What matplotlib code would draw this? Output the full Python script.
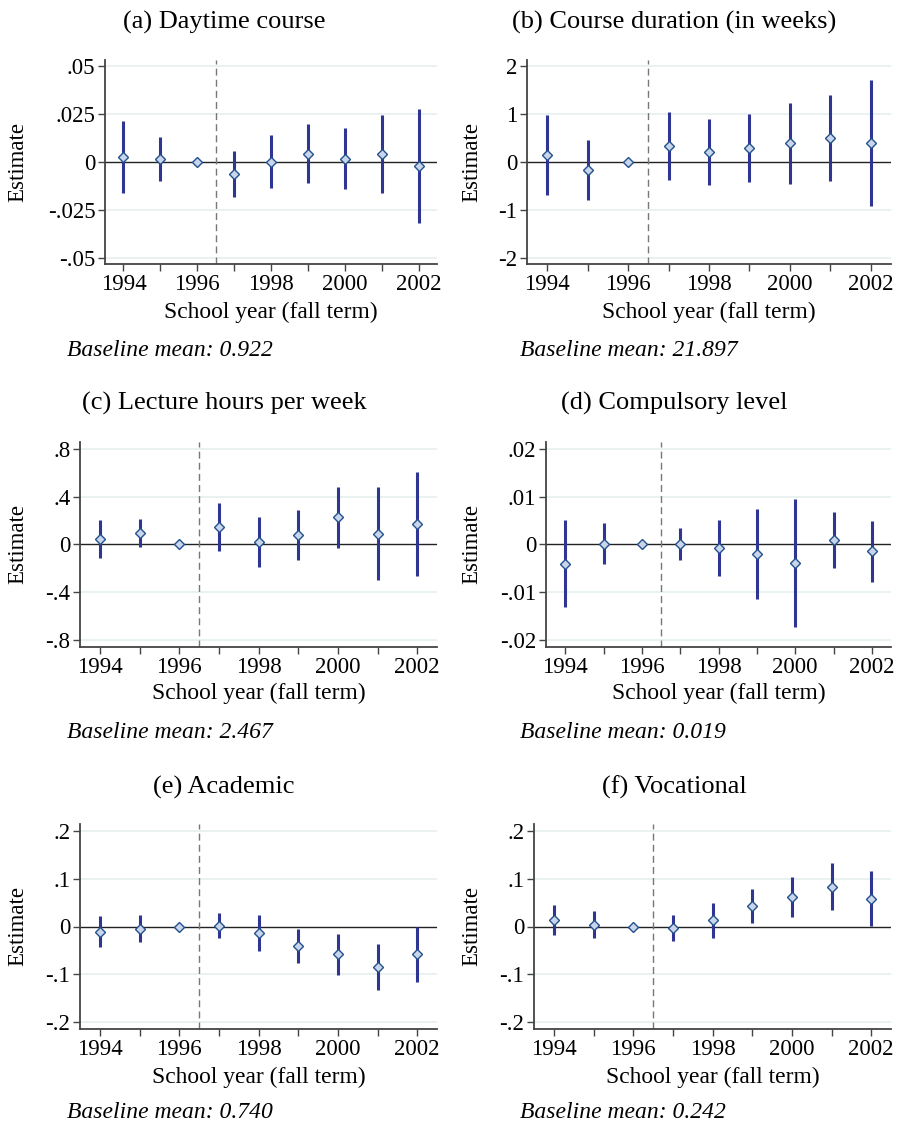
import numpy as np
import matplotlib
matplotlib.use("Agg")
import matplotlib.pyplot as plt

plt.rcParams['font.family'] = ['Liberation Serif', 'DejaVu Serif']

years = [1994, 1995, 1996, 1997, 1998, 1999, 2000, 2001, 2002]
year_labels = ['1994', '', '1996', '', '1998', '', '2000', '', '2002']

# point estimates and 95% CI bounds, 1996 is the reference year
daytime_est = [0.0026, 0.0014, 0.0, -0.0063, 0.0002, 0.0044, 0.0017, 0.0040, -0.0021]
daytime_lo = [-0.0160, -0.0101, 0.0, -0.0183, -0.0136, -0.0110, -0.0141, -0.0164, -0.0319]
daytime_hi = [0.0214, 0.0130, 0.0, 0.0057, 0.0141, 0.0199, 0.0176, 0.0244, 0.0275]

duration_est = [0.153, -0.167, 0.0, 0.334, 0.209, 0.293, 0.390, 0.500, 0.397]
duration_lo = [-0.683, -0.800, 0.0, -0.383, -0.488, -0.418, -0.460, -0.404, -0.920]
duration_hi = [0.990, 0.453, 0.0, 1.045, 0.892, 0.997, 1.240, 1.394, 1.707]

hours_est = [0.045, 0.095, 0.0, 0.146, 0.022, 0.079, 0.227, 0.090, 0.171]
hours_lo = [-0.115, -0.020, 0.0, -0.053, -0.188, -0.132, -0.028, -0.298, -0.264]
hours_hi = [0.202, 0.213, 0.0, 0.342, 0.233, 0.289, 0.483, 0.477, 0.606]

compulsory_est = [-0.0040, 0.0002, 0.0, 0.0001, -0.0007, -0.0019, -0.0038, 0.0009, -0.0014]
compulsory_lo = [-0.0131, -0.0041, 0.0, -0.0033, -0.0066, -0.0113, -0.0171, -0.0048, -0.0078]
compulsory_hi = [0.0051, 0.0045, 0.0, 0.0035, 0.0051, 0.0074, 0.0094, 0.0067, 0.0049]

academic_est = [-0.0105, -0.0049, 0.0, 0.0020, -0.0133, -0.0410, -0.0580, -0.0846, -0.0573]
academic_lo = [-0.0427, -0.0320, 0.0, -0.0245, -0.0510, -0.0770, -0.1010, -0.1320, -0.1150]
academic_hi = [0.0217, 0.0230, 0.0, 0.0290, 0.0245, -0.0056, -0.0147, -0.0370, -0.0007]

vocational_est = [0.0140, 0.0035, 0.0, -0.0035, 0.0133, 0.0420, 0.0615, 0.0825, 0.0580]
vocational_lo = [-0.0180, -0.0240, 0.0, -0.0310, -0.0240, 0.0063, 0.0196, 0.0336, 0.0007]
vocational_hi = [0.0455, 0.0315, 0.0, 0.0245, 0.0497, 0.0780, 0.1028, 0.1320, 0.1150]

titles = ['(a) Daytime course', '(b) Course duration (in weeks)',
          '(c) Lecture hours per week', '(d) Compulsory level',
          '(e) Academic', '(f) Vocational']
baselines = ['0.922', '21.897', '2.467', '0.019', '0.740', '0.242']

yticks = [[-0.05, -0.025, 0, 0.025, 0.05], [-2, -1, 0, 1, 2],
          [-0.8, -0.4, 0, 0.4, 0.8], [-0.02, -0.01, 0, 0.01, 0.02],
          [-0.2, -0.1, 0, 0.1, 0.2], [-0.2, -0.1, 0, 0.1, 0.2]]
ytick_labels = [['-.05', '-.025', '0', '.025', '.05'], ['-2', '-1', '0', '1', '2'],
                ['-.8', '-.4', '0', '.4', '.8'], ['-.02', '-.01', '0', '.01', '.02'],
                ['-.2', '-.1', '0', '.1', '.2'], ['-.2', '-.1', '0', '.1', '.2']]

estimates = [(daytime_est, daytime_lo, daytime_hi),
             (duration_est, duration_lo, duration_hi),
             (hours_est, hours_lo, hours_hi),
             (compulsory_est, compulsory_lo, compulsory_hi),
             (academic_est, academic_lo, academic_hi),
             (vocational_est, vocational_lo, vocational_hi)]

W, H = 898, 1126
# axes boxes in pixels: left, right, top, bottom
boxes = [(105, 437, 60, 264), (527, 891, 60, 264),
         (80, 437, 442, 647), (546, 891, 442, 647),
         (80, 437, 824, 1029), (534, 891, 824, 1029)]
title_y = [22, 403, 787]
xlab_y = [312, 693, 1077]
base_y = [350, 732, 1113]

fig = plt.figure(figsize=(W / 100, H / 100), dpi=100)
fig.patch.set_facecolor('white')

line_col = '#2e3592'
for i, (box, (est, lo, hi)) in enumerate(zip(boxes, estimates)):
    l, r, t, b = box
    ax = fig.add_axes([l / W, 1 - b / H, (r - l) / W, (b - t) / H])
    row, col = divmod(i, 2)
    tmax = yticks[i][-1]
    ax.set_ylim(-1.068 * tmax, 1.068 * tmax)
    ax.set_xlim(1993.5, 2002.5)

    for yv in yticks[i]:
        if yv != 0:
            ax.axhline(yv, color='#e6efef', lw=1.2, zorder=0)
    ax.axhline(0, color='#222222', lw=1.0, zorder=1)
    ax.axvline(1996.5, color='#777777', lw=1.0, ls=(0, (5, 3)), zorder=1)

    est = np.array(est)
    ax.vlines(years, lo, hi, color=line_col, lw=2.2, zorder=2)
    ax.plot(years, est, ls='none', marker='D', ms=5.5, mfc='#c8d5ea',
            mec='#24508e', mew=1.0, zorder=3)

    ax.set_xticks(years)
    ax.set_xticklabels(year_labels)
    ax.set_yticks(yticks[i])
    ax.set_yticklabels(ytick_labels[i])
    ax.tick_params(axis='both', direction='out', length=5, width=1,
                   color='#444444', labelsize=16.5, pad=2)
    for s in ['top', 'right']:
        ax.spines[s].set_visible(False)
    for s in ['left', 'bottom']:
        ax.spines[s].set_color('#444444')
        ax.spines[s].set_linewidth(1.3)

    cx = 224 + 450 * col
    fig.text(cx / W, 1 - title_y[row] / H, titles[i], ha='center', va='center', fontsize=19)
    fig.text((l + r) / 2 / W, 1 - xlab_y[row] / H, 'School year (fall term)',
             ha='center', va='center', fontsize=16.9)
    ylx = 18 if col == 0 else 472
    fig.text(ylx / W, 1 - (t + b) / 2 / H, 'Estimate', rotation=90,
             ha='center', va='center', fontsize=16.5)
    bx = 67 if col == 0 else 520
    fig.text(bx / W, 1 - base_y[row] / H, 'Baseline mean: ' + baselines[i],
             ha='left', va='center', fontsize=17, style='italic')

fig.savefig('out.png', dpi=100)
